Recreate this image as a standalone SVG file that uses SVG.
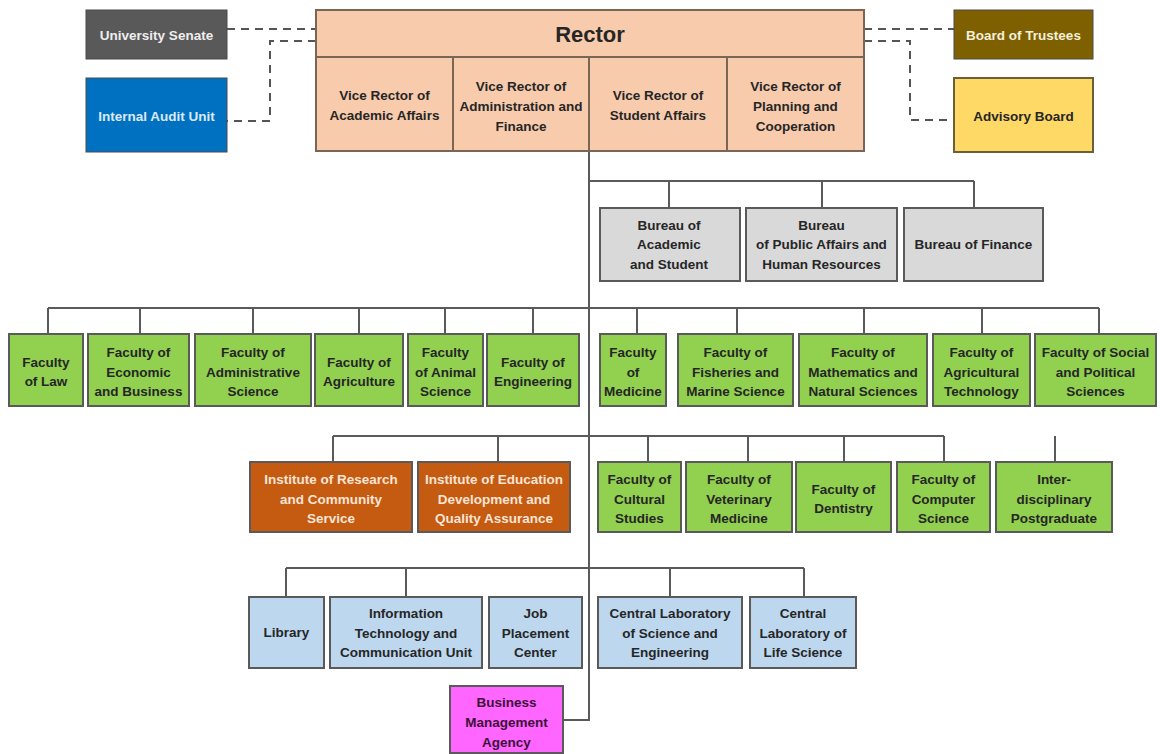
<svg xmlns="http://www.w3.org/2000/svg" width="1160" height="754" viewBox="0 0 1160 754">
<style>
text{font-family:"Liberation Sans",Arial,sans-serif;font-weight:bold;font-size:13.5px;text-anchor:middle;fill:#262626}
.box{stroke:#5a5a5a;stroke-width:2}
.g{fill:#92d050}
.b{fill:#bdd7ee}
.gr{fill:#d9d9d9}
.o{fill:#c55a11}
.ot{fill:#fbe5d6}
.r{fill:#f8cbad;stroke:#7b6656;stroke-width:2}
.ln{fill:none;stroke:#5a5a5a;stroke-width:2}
.ds{fill:none;stroke:#555;stroke-width:2;stroke-dasharray:8,6}
</style>
<rect width="1160" height="754" fill="#fff"/>
<g id="connectors">
<path class="ds" d="M227 29H316M316 41H270V121H227"/>
<path class="ds" d="M864 29H954M864 41H910V120H954"/>
<path class="ln" d="M589 152V720H563"/>
<path class="ln" d="M589 181H974M669 181V208M822 181V208M974 181V208"/>
<path class="ln" d="M48 308H1099M48 308V334M140 308V334M253 308V334M359 308V334M445 308V334M533 308V334M637 308V334M737 308V334M864 308V334M982 308V334M1099 308V334"/>
<path class="ln" d="M333 436H944M333 436V462M498 436V462M648 436V462M748 436V462M844 436V462M944 436V462M1055 436V462"/>
<path class="ln" d="M286 568H804M286 568V597M406 568V597M670 568V597M804 568V597"/>
</g>
<g id="senate"><rect x="86" y="10" width="141" height="49" fill="#595959" stroke="#4a4a4a" stroke-width="1"/><text x="156.5" y="39.5" style="fill:#eeeeee">University Senate</text></g>
<g id="audit"><rect x="86" y="78" width="141" height="74" fill="#0070c0" stroke="#4a4a4a" stroke-width="1"/><text x="156.5" y="120.5" style="fill:#dde9f6">Internal Audit Unit</text></g>
<g id="trustees"><rect x="954" y="10" width="139" height="49" fill="#7f6000" stroke="#4a4a4a" stroke-width="1"/><text x="1023.5" y="39.5" style="fill:#f3efdc">Board of Trustees</text></g>
<g id="advisory"><rect x="954" y="78" width="139" height="74" fill="#ffd966" stroke="#6b5f3a" stroke-width="2"/><text x="1023.5" y="120.5">Advisory Board</text></g>
<g id="rector"><rect class="r" x="316" y="10" width="548" height="47"/><text x="590" y="42" style="font-size:22px">Rector</text></g>
<g id="vr-academic"><rect class="r" x="316" y="57" width="137" height="94"/><text x="384.5" y="99.5">Vice Rector of<tspan x="384.5" dy="20">Academic Affairs</tspan></text></g>
<g id="vr-admin"><rect class="r" x="453" y="57" width="136" height="94"/><text x="521" y="90.5">Vice Rector of<tspan x="521" dy="20">Administration and</tspan><tspan x="521" dy="20">Finance</tspan></text></g>
<g id="vr-student"><rect class="r" x="589" y="57" width="138" height="94"/><text x="658" y="99.5">Vice Rector of<tspan x="658" dy="20">Student Affairs</tspan></text></g>
<g id="vr-planning"><rect class="r" x="727" y="57" width="137" height="94"/><text x="795.5" y="90.5">Vice Rector of<tspan x="795.5" dy="20">Planning and</tspan><tspan x="795.5" dy="20">Cooperation</tspan></text></g>
<g id="bureau-academic"><rect class="box gr" x="600" y="208" width="140" height="73"/><text x="669" y="229.5">Bureau of<tspan x="669" dy="19.5">Academic</tspan><tspan x="669" dy="19.5">and Student</tspan></text></g>
<g id="bureau-public"><rect class="box gr" x="746" y="208" width="151" height="73"/><text x="821.5" y="229.5">Bureau<tspan x="821.5" dy="19.5">of Public Affairs and</tspan><tspan x="821.5" dy="19.5">Human Resources</tspan></text></g>
<g id="bureau-finance"><rect class="box gr" x="904" y="208" width="139" height="73"/><text x="973.5" y="249">Bureau of Finance</text></g>
<g id="f-law"><rect class="box g" x="9" y="334" width="74" height="72"/><text x="46" y="366.5">Faculty<tspan x="46" dy="19.5">of Law</tspan></text></g>
<g id="f-economic"><rect class="box g" x="88" y="334" width="101" height="72"/><text x="138.5" y="357">Faculty of<tspan x="138.5" dy="19.5">Economic</tspan><tspan x="138.5" dy="19.5">and Business</tspan></text></g>
<g id="f-admin"><rect class="box g" x="195" y="334" width="116" height="72"/><text x="253" y="357">Faculty of<tspan x="253" dy="19.5">Administrative</tspan><tspan x="253" dy="19.5">Science</tspan></text></g>
<g id="f-agri"><rect class="box g" x="315" y="334" width="88" height="72"/><text x="359" y="366.5">Faculty of<tspan x="359" dy="19.5">Agriculture</tspan></text></g>
<g id="f-animal"><rect class="box g" x="408" y="334" width="75" height="72"/><text x="445.5" y="357">Faculty<tspan x="445.5" dy="19.5">of Animal</tspan><tspan x="445.5" dy="19.5">Science</tspan></text></g>
<g id="f-eng"><rect class="box g" x="487" y="334" width="92" height="72"/><text x="533" y="366.5">Faculty of<tspan x="533" dy="19.5">Engineering</tspan></text></g>
<g id="f-medicine"><rect class="box g" x="600" y="334" width="66" height="72"/><text x="633" y="357">Faculty<tspan x="633" dy="19.5">of</tspan><tspan x="633" dy="19.5">Medicine</tspan></text></g>
<g id="f-fisheries"><rect class="box g" x="678" y="334" width="115" height="72"/><text x="735.5" y="357">Faculty of<tspan x="735.5" dy="19.5">Fisheries and</tspan><tspan x="735.5" dy="19.5">Marine Science</tspan></text></g>
<g id="f-math"><rect class="box g" x="799" y="334" width="128" height="72"/><text x="863" y="357">Faculty of<tspan x="863" dy="19.5">Mathematics and</tspan><tspan x="863" dy="19.5">Natural Sciences</tspan></text></g>
<g id="f-agritech"><rect class="box g" x="933" y="334" width="97" height="72"/><text x="981.5" y="357">Faculty of<tspan x="981.5" dy="19.5">Agricultural</tspan><tspan x="981.5" dy="19.5">Technology</tspan></text></g>
<g id="f-social"><rect class="box g" x="1035" y="334" width="121" height="72"/><text x="1095.5" y="357">Faculty of Social<tspan x="1095.5" dy="19.5">and Political</tspan><tspan x="1095.5" dy="19.5">Sciences</tspan></text></g>
<g id="i-research"><rect class="box o" x="250" y="462" width="162" height="70"/><text x="331" y="484" class="ot">Institute of Research<tspan x="331" dy="19.5">and Community</tspan><tspan x="331" dy="19.5">Service</tspan></text></g>
<g id="i-education"><rect class="box o" x="418" y="462" width="152" height="70"/><text x="494" y="484" class="ot">Institute of Education<tspan x="494" dy="19.5">Development and</tspan><tspan x="494" dy="19.5">Quality Assurance</tspan></text></g>
<g id="f-cultural"><rect class="box g" x="598" y="462" width="83" height="70"/><text x="639.5" y="484">Faculty of<tspan x="639.5" dy="19.5">Cultural</tspan><tspan x="639.5" dy="19.5">Studies</tspan></text></g>
<g id="f-vet"><rect class="box g" x="686" y="462" width="106" height="70"/><text x="739" y="484">Faculty of<tspan x="739" dy="19.5">Veterinary</tspan><tspan x="739" dy="19.5">Medicine</tspan></text></g>
<g id="f-dentistry"><rect class="box g" x="796" y="462" width="95" height="70"/><text x="843.5" y="493.5">Faculty of<tspan x="843.5" dy="19.5">Dentistry</tspan></text></g>
<g id="f-computer"><rect class="box g" x="897" y="462" width="93" height="70"/><text x="943.5" y="484">Faculty of<tspan x="943.5" dy="19.5">Computer</tspan><tspan x="943.5" dy="19.5">Science</tspan></text></g>
<g id="interdisciplinary"><rect class="box g" x="996" y="462" width="116" height="70"/><text x="1054" y="484">Inter-<tspan x="1054" dy="19.5">disciplinary</tspan><tspan x="1054" dy="19.5">Postgraduate</tspan></text></g>
<g id="library"><rect class="box b" x="249" y="597" width="75" height="71"/><text x="286.5" y="637">Library</text></g>
<g id="ict"><rect class="box b" x="330" y="597" width="152" height="71"/><text x="406" y="618">Information<tspan x="406" dy="19.5">Technology and</tspan><tspan x="406" dy="19.5">Communication Unit</tspan></text></g>
<g id="job"><rect class="box b" x="489" y="597" width="93" height="71"/><text x="535.5" y="618">Job<tspan x="535.5" dy="19.5">Placement</tspan><tspan x="535.5" dy="19.5">Center</tspan></text></g>
<g id="lab-science"><rect class="box b" x="598" y="597" width="144" height="71"/><text x="670" y="618">Central Laboratory<tspan x="670" dy="19.5">of Science and</tspan><tspan x="670" dy="19.5">Engineering</tspan></text></g>
<g id="lab-life"><rect class="box b" x="750" y="597" width="106" height="71"/><text x="803" y="618">Central<tspan x="803" dy="19.5">Laboratory of</tspan><tspan x="803" dy="19.5">Life Science</tspan></text></g>
<g id="bma"><rect x="450" y="686" width="113" height="67" fill="#ff66ff" stroke="#5a5a5a" stroke-width="2"/><text x="506.5" y="706.5" style="fill:#3d1238">Business<tspan x="506.5" dy="20">Management</tspan><tspan x="506.5" dy="20">Agency</tspan></text></g>
</svg>
